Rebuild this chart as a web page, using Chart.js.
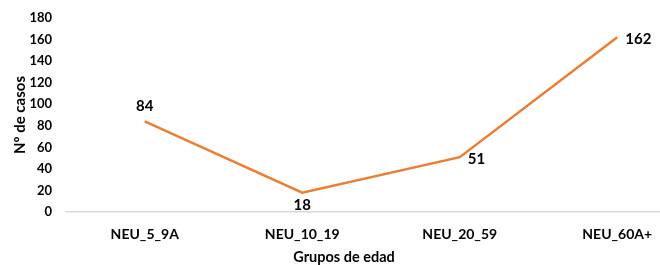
<!DOCTYPE html>
<html>
<head>
<meta charset="utf-8">
<script src="https://cdn.jsdelivr.net/npm/chart.js@4/dist/chart.umd.min.js"></script>
<style>
    html, body { margin: 0; padding: 0; overflow: hidden; background: #fff; }
    #wrap { width: 700px; height: 269px; margin-top: -4px; }
</style>
</head>
<body>
<div id="wrap"><canvas id="chart"></canvas></div>
<script>
// datos del gráfico
const grupos = ['NEU_5_9A', 'NEU_10_19', 'NEU_20_59', 'NEU_60A+'];
const casos = [84, 18, 51, 162];
const yTicks = [0, 20, 40, 60, 80, 100, 120, 140, 160, 180];

// posición de cada etiqueta respecto al punto
const labelPos = ['top', 'bottom', 'right', 'right'];

const fontFam = "Lato, 'Open Sans', sans-serif";

// etiquetas de datos (sin plugin externo)
const valueLabels = {
    id: 'valueLabels',
    afterDatasetsDraw(chart) {
        const ctx = chart.ctx;
        const meta = chart.getDatasetMeta(0);
        ctx.save();
        ctx.font = 'bold 15px ' + fontFam;
        ctx.fillStyle = '#000';
        meta.data.forEach((pt, i) => {
            let x = pt.x, y = pt.y;
            if (labelPos[i] === 'top') { y -= 15; ctx.textAlign = 'center'; }
            else if (labelPos[i] === 'bottom') { y += 12; ctx.textAlign = 'center'; }
            else { x += 8; y += 2; ctx.textAlign = 'left'; }
            ctx.textBaseline = 'middle';
            ctx.fillText(casos[i], x, y);
        });
        ctx.restore();
    }
};

// título del eje x centrado en la parte visible
const xTitle = {
    id: 'xTitle',
    afterDraw(chart) {
        const ctx = chart.ctx;
        ctx.save();
        ctx.font = 'bold 14.5px ' + fontFam;
        ctx.fillStyle = '#000';
        ctx.textAlign = 'center';
        ctx.textBaseline = 'middle';
        ctx.fillText('Grupos de edad', 344, 261);
        ctx.restore();
    }
};

new Chart(document.getElementById('chart'), {
    type: 'line',
    data: {
        labels: grupos,
        datasets: [{
            data: casos,
            borderColor: '#ED7D31',
            borderWidth: 2.5,
            pointRadius: 0,
            tension: 0
        }]
    },
    options: {
        responsive: true,
        maintainAspectRatio: false,
        animation: false,
        layout: { padding: { top: 0, right: 4, bottom: 8, left: 11 } },
        plugins: {
            legend: { display: false },
            tooltip: { enabled: false }
        },
        scales: {
            x: {
                offset: true,
                grid: { display: false, drawTicks: false },
                border: { display: true, color: '#d9d9d9', width: 1.5 },
                ticks: {
                    color: '#000',
                    padding: 14,
                    maxRotation: 0,
                    font: { family: fontFam, size: 14, weight: 'bold' }
                }
            },
            y: {
                min: 0,
                max: 180,
                afterBuildTicks: (scale) => {
                    scale.ticks = yTicks.map(v => ({ value: v }));
                },
                afterFit: (scale) => { scale.width = 55; },
                grid: { display: false, drawTicks: false },
                border: { display: false },
                ticks: {
                    color: '#000',
                    padding: 14,
                    font: { family: fontFam, size: 13, weight: 'bold' }
                },
                title: {
                    display: true,
                    text: 'Nº de casos',
                    color: '#000',
                    padding: { top: 0, bottom: 0 },
                    font: { family: fontFam, size: 15, weight: 'bold' }
                }
            }
        }
    },
    plugins: [valueLabels, xTitle]
});
</script>
</body>
</html>
